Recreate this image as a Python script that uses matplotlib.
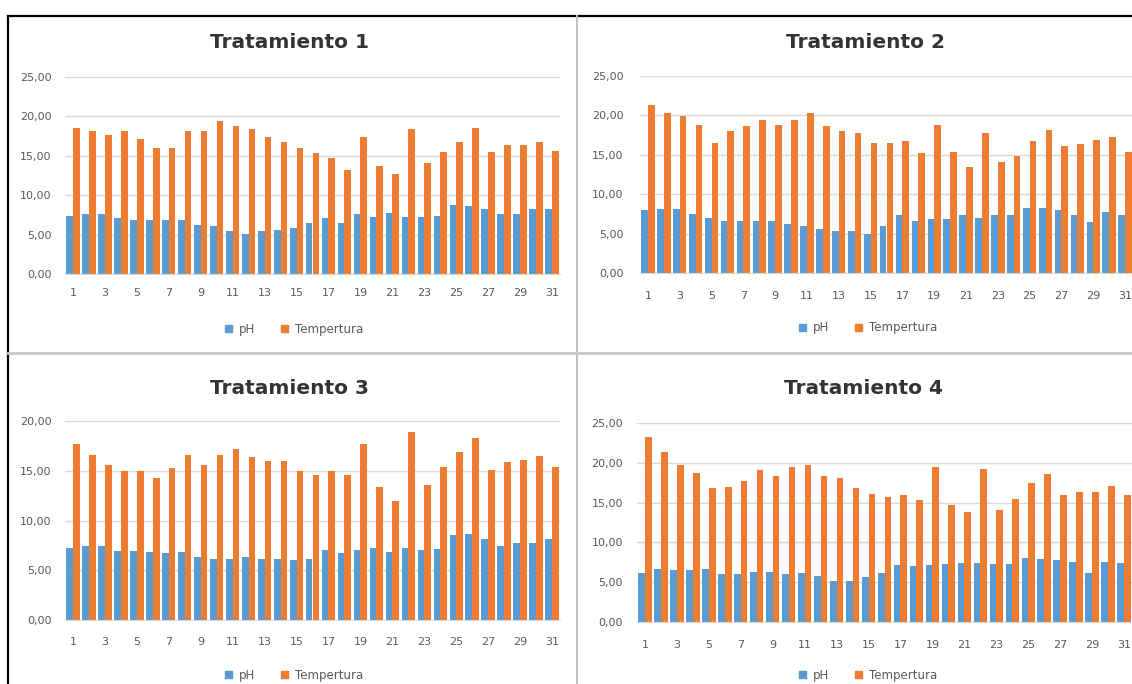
"""
Evolución diaria de pH y temperatura por tratamiento (4 tratamientos, 31 días).
"""

import matplotlib.pyplot as plt
from matplotlib.lines import Line2D
from matplotlib.patches import Patch
import numpy as np

# ── Datos ─────────────────────────────────────────────────────────────────────
dias = [1, 2, 3, 4, 5, 6, 7, 8, 9, 10, 11, 12, 13, 14, 15, 16,
        17, 18, 19, 20, 21, 22, 23, 24, 25, 26, 27, 28, 29, 30, 31]

ph_t1 = [7.35, 7.6, 7.6, 7.1, 6.8, 6.8, 6.8, 6.8, 6.2, 6.1, 5.4, 5.1, 5.4, 5.6, 5.9, 6.5,
         7.1, 6.5, 7.6, 7.2, 7.7, 7.2, 7.2, 7.35, 8.7, 8.6, 8.3, 7.6, 7.6, 8.2, 8.2]
temp_t1 = [18.5, 18.1, 17.7, 18.1, 17.1, 16.0, 16.0, 18.1, 18.1, 19.4, 18.8, 18.4, 17.4, 16.7, 16.0, 15.4,
           14.7, 13.2, 17.4, 13.7, 12.7, 18.4, 14.1, 15.5, 16.7, 18.5, 15.5, 16.4, 16.4, 16.8, 15.6]

ph_t2 = [8.0, 8.1, 8.1, 7.5, 7.0, 6.6, 6.6, 6.6, 6.6, 6.2, 6.0, 5.6, 5.3, 5.3, 5.0, 6.0,
         7.3, 6.6, 6.9, 6.9, 7.4, 7.0, 7.4, 7.4, 8.3, 8.3, 8.0, 7.3, 6.5, 7.8, 7.4]
temp_t2 = [21.3, 20.3, 19.9, 18.8, 16.5, 18.0, 18.7, 19.4, 18.8, 19.4, 20.3, 18.7, 18.0, 17.8, 16.5, 16.5,
           16.7, 15.2, 18.8, 15.4, 13.5, 17.8, 14.1, 14.9, 16.7, 18.2, 16.1, 16.4, 16.9, 17.3, 15.4]

ph_t3 = [7.2, 7.4, 7.4, 6.9, 6.9, 6.8, 6.7, 6.8, 6.3, 6.1, 6.1, 6.3, 6.1, 6.1, 6.0, 6.1,
         7.0, 6.7, 7.0, 7.2, 6.8, 7.2, 7.0, 7.1, 8.5, 8.6, 8.1, 7.4, 7.7, 7.7, 8.1]
temp_t3 = [17.7, 16.6, 15.6, 15.0, 15.0, 14.3, 15.3, 16.6, 15.6, 16.6, 17.2, 16.4, 16.0, 16.0, 15.0, 14.6,
           15.0, 14.6, 17.7, 13.4, 12.0, 18.9, 13.6, 15.4, 16.9, 18.3, 15.1, 15.9, 16.1, 16.5, 15.4]

ph_t4 = [6.1, 6.6, 6.5, 6.5, 6.7, 6.0, 6.0, 6.3, 6.3, 6.0, 6.1, 5.8, 5.2, 5.2, 5.6, 6.1,
         7.1, 7.0, 7.1, 7.3, 7.4, 7.4, 7.3, 7.3, 8.0, 7.9, 7.8, 7.5, 6.2, 7.5, 7.4]
temp_t4 = [23.3, 21.4, 19.7, 18.7, 16.8, 16.9, 17.7, 19.1, 18.4, 19.5, 19.7, 18.3, 18.1, 16.8, 16.1, 15.7,
           16.0, 15.3, 19.5, 14.7, 13.8, 19.2, 14.1, 15.4, 17.5, 18.6, 16.0, 16.3, 16.3, 17.1, 15.9]

titulos = ["Tratamiento 1", "Tratamiento 2", "Tratamiento 3", "Tratamiento 4"]
y_max = [25, 25, 20, 25]

# ── Estilo ────────────────────────────────────────────────────────────────────
AZUL = "#5B9BD5"
NARANJA = "#ED7D31"
GRIS_TEXTO = "#595959"
GRIS_REJILLA = "#D9D9D9"

W, H = 1132, 684

# Caja de cada gráfico en píxeles: (izq, der, arriba, cero), centro del título,
# centro de la leyenda y separación de las etiquetas de los ejes
paneles = [
    dict(caja=(65, 560, 77, 274), titulo=(290, 42), leyenda=(294, 329), pad_y=9.5, pad_x=10),
    dict(caja=(640, 1133, 76, 273), titulo=(866, 42), leyenda=(868, 328), pad_y=12, pad_x=13),
    dict(caja=(65, 560, 421, 620), titulo=(290, 388), leyenda=(294, 675), pad_y=9.5, pad_x=12),
    dict(caja=(637, 1132, 423, 622), titulo=(864, 388), leyenda=(868, 675), pad_y=10, pad_x=13),
]

series = [(ph_t1, temp_t1), (ph_t2, temp_t2), (ph_t3, temp_t3), (ph_t4, temp_t4)]

plt.rcParams["font.family"] = ["DejaVu Sans"]

fig = plt.figure(figsize=(W / 100, H / 100), dpi=100)
fig.patch.set_facecolor("white")

x = np.arange(len(dias))
ancho = 0.42

for cfg, (ph, temp), titulo, ymax in zip(paneles, series, titulos, y_max):
    izq, der, arriba, cero = cfg["caja"]
    ax = fig.add_axes([izq / W, 1 - cero / H, (der - izq) / W, (cero - arriba) / H])

    ax.bar(x - ancho / 2, ph, width=ancho, color=AZUL, zorder=3)
    ax.bar(x + ancho / 2, temp, width=ancho, color=NARANJA, zorder=3)

    ax.set_xlim(-0.5, len(dias) - 0.5)
    ax.set_ylim(0, ymax)
    ax.set_yticks(np.arange(0, ymax + 1, 5))
    ax.set_yticklabels([f"{v:.2f}".replace(".", ",") for v in np.arange(0, ymax + 1, 5)])
    ax.set_xticks(x[::2])
    ax.set_xticklabels([str(d) for d in dias[::2]])

    ax.grid(axis="y", color=GRIS_REJILLA, linewidth=1.0, zorder=0)
    for lado in ["top", "right", "left"]:
        ax.spines[lado].set_visible(False)
    ax.spines["bottom"].set_color(GRIS_REJILLA)
    ax.spines["bottom"].set_zorder(4)
    ax.tick_params(axis="y", length=0, pad=cfg["pad_y"], labelsize=8, labelcolor=GRIS_TEXTO)
    ax.tick_params(axis="x", length=0, pad=cfg["pad_x"], labelsize=8, labelcolor=GRIS_TEXTO)
    ax.set_facecolor("none")

    tx, ty = cfg["titulo"]
    fig.text(tx / W, 1 - ty / H, titulo, ha="center", va="center",
             fontsize=14.5, fontweight="bold", color="#333333")

    lx, ly = cfg["leyenda"]
    handles = [Patch(color=AZUL), Patch(color=NARANJA)]
    ax.legend(handles, ["pH", "Tempertura"], loc="center",
              bbox_to_anchor=(lx / W, 1 - ly / H), bbox_transform=fig.transFigure,
              ncol=2, frameon=False, fontsize=8.5, labelcolor=GRIS_TEXTO,
              handlelength=0.6, handleheight=0.6, handletextpad=0.6, columnspacing=2.2)

# ── Marcos entre gráficos ─────────────────────────────────────────────────────
def linea(x0, y0, x1, y1, color, lw):
    fig.add_artist(Line2D([x0 / W, x1 / W], [1 - y0 / H, 1 - y1 / H],
                          transform=fig.transFigure, color=color, linewidth=lw))

linea(8, 15.5, W, 15.5, "black", 1.6)
linea(8, 15.5, 8, H, "black", 1.6)
linea(577, 16, 577, H, "#BFBFBF", 1.4)
linea(8, 353, W, 353, "#C8C8C8", 2.0)

fig.savefig("out.png", dpi=100)
plt.close(fig)
